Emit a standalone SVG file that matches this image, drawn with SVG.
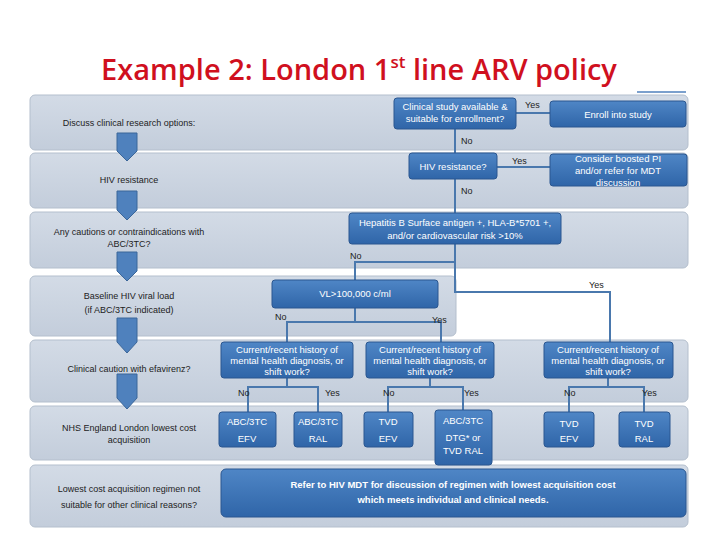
<svg xmlns="http://www.w3.org/2000/svg" width="720" height="540" viewBox="0 0 720 540">
<defs>
<linearGradient id="bg" x1="0" y1="0" x2="0" y2="1"><stop offset="0" stop-color="#d3dbe6"/><stop offset="1" stop-color="#c3cddb"/></linearGradient>
<linearGradient id="bx" x1="0" y1="0" x2="0" y2="1"><stop offset="0" stop-color="#4f86c6"/><stop offset="1" stop-color="#2f65a8"/></linearGradient>
<style>
.band{fill:url(#bg);stroke:#b4bfcd;stroke-width:1}
.box{fill:url(#bx);stroke:#2a5690;stroke-width:1}
.bt{font-family:"Liberation Sans",sans-serif;font-size:9.5px;fill:#fff;text-anchor:middle}
.lt{font-family:"Liberation Sans",sans-serif;font-size:9px;fill:#222;text-anchor:middle}
.yl{font-family:"Liberation Sans",sans-serif;font-size:9px;fill:#222}
.ln{fill:none;stroke:#4a78ad;stroke-width:2}
.ar{fill:#4f81bd;stroke:#3b6699;stroke-width:1}
</style>
</defs>
<rect width="720" height="540" fill="#fff"/>
<text x="359" y="80" text-anchor="middle" font-family="Open Sans,Liberation Sans,sans-serif" font-weight="600" font-size="29" fill="#d0101e">Example 2: London 1<tspan font-size="17" dy="-12">st</tspan><tspan dy="12"> line ARV policy</tspan></text>
<line x1="637" y1="92" x2="686" y2="92" stroke="#4f81bd" stroke-width="1.5"/>
<g id="bands">
<rect class="band" x="30" y="95" width="658" height="55" rx="5"/>
<rect class="band" x="30" y="153" width="658" height="55" rx="5"/>
<rect class="band" x="30" y="212" width="658" height="56" rx="5"/>
<rect class="band" x="30" y="276" width="426" height="60" rx="5"/>
<rect class="band" x="30" y="340" width="658" height="62" rx="5"/>
<rect class="band" x="30" y="406" width="658" height="54" rx="5"/>
<rect class="band" x="30" y="465" width="658" height="62" rx="5"/>
</g>
<g id="labels">
<text class="lt" x="129" y="126">Discuss clinical research options:</text>
<text class="lt" x="129" y="183">HIV resistance</text>
<text class="lt" x="129" y="235">Any cautions or contraindications with</text>
<text class="lt" x="129" y="247">ABC/3TC?</text>
<text class="lt" x="129" y="299">Baseline HIV viral load</text>
<text class="lt" x="129" y="313">(if ABC/3TC indicated)</text>
<text class="lt" x="129" y="372">Clinical caution with efavirenz?</text>
<text class="lt" x="129" y="431">NHS England London lowest cost</text>
<text class="lt" x="129" y="443">acquisition</text>
<text class="lt" x="129" y="492">Lowest cost acquisition regimen not</text>
<text class="lt" x="129" y="508">suitable  for other clinical reasons?</text>
</g>
<g id="arrows">
<path class="ar" d="M117 133h20v18l-10 10l-10-10z"/>
<path class="ar" d="M117 191h20v19l-10 10l-10-10z"/>
<path class="ar" d="M117 252h20v19l-10 10l-10-10z"/>
<path class="ar" d="M117 318h20v24l-10 11l-10-11z"/>
<path class="ar" d="M117 374h20v24l-10 11l-10-11z"/>
</g>
<g id="connectors">
<path class="ln" d="M516 113H550M497 167H550M455 129V213M455 244V292H610V342M455 262H355V280M355 308V322H287V342M355 322H441V342"/>
<path class="ln" d="M287 378V387H248V412M287 387H318V412M430 378V387H388V412M430 387H463V410M608 378V387H569V412M608 387H644V412"/>
<text class="yl" x="525" y="108">Yes</text>
<text class="yl" x="461" y="144">No</text>
<text class="yl" x="512" y="164">Yes</text>
<text class="yl" x="461" y="194">No</text>
<text class="yl" x="350" y="259">No</text>
<text class="yl" x="589" y="288">Yes</text>
<text class="yl" x="275" y="320">No</text>
<text class="yl" x="432" y="323">Yes</text>
<text class="yl" x="238" y="396">No</text>
<text class="yl" x="325" y="396">Yes</text>
<text class="yl" x="383" y="396">No</text>
<text class="yl" x="464" y="396">Yes</text>
<text class="yl" x="564" y="396">No</text>
<text class="yl" x="642" y="396">Yes</text>
</g>
<g id="n-study"><rect class="box" x="394" y="98" width="122" height="31" rx="3"/><text class="bt" x="455" y="110">Clinical study available &amp;</text><text class="bt" x="455" y="122">suitable for enrollment?</text></g>
<g id="n-enroll"><rect class="box" x="550" y="101" width="136" height="26" rx="3"/><text class="bt" x="618" y="118">Enroll into study</text></g>
<g id="n-res"><rect class="box" x="409" y="153" width="88" height="26" rx="3"/><text class="bt" x="453" y="170">HIV resistance?</text></g>
<g id="n-pi"><rect class="box" x="550" y="154" width="137" height="32" rx="3"/><text class="bt" x="618" y="162">Consider boosted PI</text><text class="bt" x="618" y="174">and/or refer for MDT</text><text class="bt" x="618" y="186">discussion</text></g>
<g id="n-hep"><rect class="box" x="349" y="213" width="212" height="31" rx="3"/><text class="bt" x="455" y="226">Hepatitis  B Surface antigen +, HLA-B*5701 +,</text><text class="bt" x="455" y="239">and/or cardiovascular risk &gt;10%</text></g>
<g id="n-vl"><rect class="box" x="272" y="280" width="166" height="28" rx="3"/><text class="bt" x="355" y="297">VL&gt;100,000 c/ml</text></g>
<g id="n-m1"><rect class="box" x="221" y="342" width="132" height="36" rx="3"/><text class="bt" x="287" y="353">Current/recent history of</text><text class="bt" x="287" y="364">mental health  diagnosis, or</text><text class="bt" x="287" y="375">shift work?</text></g>
<g id="n-m2"><rect class="box" x="366" y="342" width="128" height="36" rx="3"/><text class="bt" x="430" y="353">Current/recent history of</text><text class="bt" x="430" y="364">mental health  diagnosis, or</text><text class="bt" x="430" y="375">shift work?</text></g>
<g id="n-m3"><rect class="box" x="544" y="342" width="129" height="36" rx="3"/><text class="bt" x="608" y="353">Current/recent history of</text><text class="bt" x="608" y="364">mental health  diagnosis, or</text><text class="bt" x="608" y="375">shift work?</text></g>
<g id="n-r1"><rect class="box" x="219" y="412" width="57" height="35" rx="3"/><text class="bt" x="247" y="425">ABC/3TC</text><text class="bt" x="247" y="442">EFV</text></g>
<g id="n-r2"><rect class="box" x="294" y="412" width="48" height="35" rx="3"/><text class="bt" x="318" y="425">ABC/3TC</text><text class="bt" x="318" y="442">RAL</text></g>
<g id="n-r3"><rect class="box" x="364" y="412" width="49" height="35" rx="3"/><text class="bt" x="388" y="425">TVD</text><text class="bt" x="388" y="442">EFV</text></g>
<g id="n-r4"><rect class="box" x="435" y="410" width="57" height="55" rx="3"/><text class="bt" x="463" y="424">ABC/3TC</text><text class="bt" x="463" y="441">DTG* or</text><text class="bt" x="463" y="454">TVD RAL</text></g>
<g id="n-r5"><rect class="box" x="544" y="412" width="50" height="35" rx="3"/><text class="bt" x="569" y="427">TVD</text><text class="bt" x="569" y="442">EFV</text></g>
<g id="n-r6"><rect class="box" x="619" y="412" width="51" height="35" rx="3"/><text class="bt" x="644" y="427">TVD</text><text class="bt" x="644" y="442">RAL</text></g>
<g id="n-mdt"><rect class="box" x="221" y="469" width="465" height="48" rx="5"/><text class="bt" x="453" y="488" font-weight="bold" font-size="10.5">Refer to HIV MDT for discussion of regimen with lowest acquisition cost</text><text class="bt" x="453" y="503" font-weight="bold" font-size="10.5">which meets individual and clinical needs.</text></g>
</svg>
